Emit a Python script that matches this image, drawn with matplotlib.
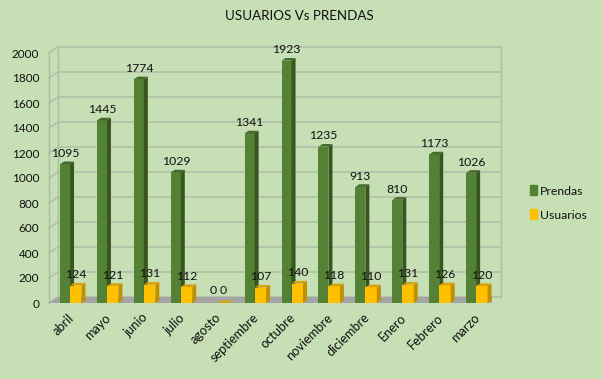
import matplotlib
matplotlib.use("Agg")
import matplotlib.pyplot as plt
from matplotlib.patches import Patch

months = ["abril", "mayo", "junio", "julio", "agosto", "septiembre", "octubre",
          "noviembre", "diciembre", "Enero", "Febrero", "marzo"]
prendas = [1095, 1445, 1774, 1029, 0, 1341, 1923, 1235, 913, 810, 1173, 1026]
usuarios = [124, 121, 131, 112, 0, 107, 140, 118, 110, 131, 126, 120]
yticks = list(range(0, 2001, 200))

BG = "#C6DFB5"
GRID = "#AEBBA6"
FONT = "Lato"
plt.rcParams["font.family"] = [FONT, "DejaVu Sans"]

W, H = 602, 379
fig = plt.figure(figsize=(W / 100, H / 100), dpi=100, facecolor=BG)
L, R, T, B = 49, 492, 53, 303
ax = fig.add_axes([L / W, 1 - B / H, (R - L) / W, (B - T) / H])
ax.set_xlim(0, 12)
ax.set_ylim(0, 2000)
ax.patch.set_visible(False)
for s in ax.spines.values():
    s.set_visible(False)

px_x = 12 / (R - L)
px_y = 2000 / (B - T)
wall_dx, wall_dy = 9 * px_x, 6 * px_y
bar_dx, bar_dy = 4 * px_x, 2.6 * px_y
lift = 2 * px_y

# floor and walls
ax.fill([0, 12, 12 + wall_dx, wall_dx], [0, 0, wall_dy, wall_dy],
        color="#A3A4A3", lw=0, zorder=1)
for v in yticks:
    ax.plot([0, wall_dx, 12 + wall_dx], [v, v + wall_dy, v + wall_dy],
            color=GRID, lw=1.0, zorder=0.5, clip_on=False, solid_joinstyle="miter")
ax.plot([0, 0], [0, 2000], color=GRID, lw=1.0, zorder=0.5, clip_on=False)
ax.plot([wall_dx, wall_dx], [wall_dy, 2000 + wall_dy], color=GRID, lw=1.0, zorder=0.5, clip_on=False)
ax.plot([12 + wall_dx] * 2, [wall_dy, 2000 + wall_dy], color=GRID, lw=1.0, zorder=0.5, clip_on=False)


def bar3d(x0, w, v, front, side, top, z):
    h = v + lift
    ax.bar(x0, h, w, align="edge", color=front, lw=0, zorder=z, clip_on=False)
    ax.fill([x0 + w, x0 + w + bar_dx, x0 + w + bar_dx, x0 + w],
            [0, bar_dy, h + bar_dy, h], color=side, lw=0, zorder=z, clip_on=False)
    ax.fill([x0, x0 + w, x0 + w + bar_dx, x0 + bar_dx],
            [h, h, h + bar_dy, h + bar_dy], color=top, lw=0, zorder=z, clip_on=False)


def flat(x0, w, front):
    ax.fill([x0, x0 + w, x0 + w + bar_dx, x0 + bar_dx],
            [0, 0, bar_dy, bar_dy], color=front, lw=0, zorder=4, clip_on=False)


gw, yw = 0.27, 0.31
goff, yoff = 0.30, 0.57
LBL = 8.8
for i, (p, u) in enumerate(zip(prendas, usuarios)):
    if p > 0:
        bar3d(i + goff, gw, p, "#548235", "#38561F", "#44692B", 3)
    if u > 0:
        bar3d(i + yoff, yw, u, "#FFC000", "#BF9000", "#D9A20A", 4)
    else:
        flat(i + yoff, yw, "#D9A20A")
    ax.annotate(str(p), (i + goff + gw / 2, p), xytext=(0, 5.2), textcoords="offset points",
                ha="center", va="bottom", fontsize=LBL, color="#111111", zorder=6, annotation_clip=False)
    ax.annotate(str(u), (i + yoff + yw / 2, u), xytext=(0, 5.2), textcoords="offset points",
                ha="center", va="bottom", fontsize=LBL, color="#111111", zorder=6, annotation_clip=False)

ax.set_yticks(yticks)
ax.set_xticks([i + 0.5 for i in range(12)])
ax.set_xticklabels(months, rotation=45, ha="right", va="top", rotation_mode="anchor",
                   fontsize=9.2, color="#111111")
ax.set_yticklabels([str(v) for v in yticks], fontsize=8.5, color="#111111")
ax.tick_params(axis="both", length=0)
ax.tick_params(axis="x", pad=6)
ax.tick_params(axis="y", pad=7)

fig.text(299 / W, 1 - 16 / H, "USUARIOS Vs PRENDAS", ha="center", va="center",
         fontsize=9.6, color="#111111")

handles = [Patch(color="#548235", label="Prendas"), Patch(color="#FFC000", label="Usuarios")]
fig.legend(handles=handles, loc="center left", bbox_to_anchor=(519 / W, 1 - 203 / H),
           frameon=False, fontsize=8.8, handlelength=0.6, handleheight=0.85,
           handletextpad=0.2, labelspacing=1.05, labelcolor="#111111")

fig.savefig("out.png", dpi=100, facecolor=BG)
